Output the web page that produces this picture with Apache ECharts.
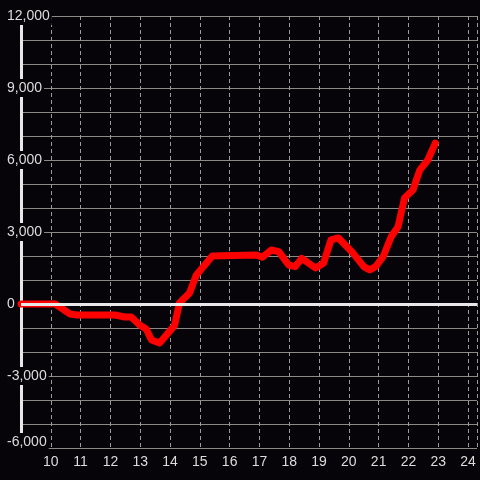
<!DOCTYPE html>
<html>
<head>
<meta charset="utf-8">
<script src="https://cdn.jsdelivr.net/npm/echarts@6/dist/echarts.min.js"></script>
<style>
  html, body { margin: 0; padding: 0; background: #060409; }
  #chart { width: 480px; height: 480px; }
</style>
</head>
<body>
<div id="chart"></div>
<script>
  // time of day (hours) and value
  var hours = [9, 10.15, 10.65, 10.88, 12.15, 12.48, 12.7, 12.98, 13.2, 13.38, 13.65,
    14.15, 14.32, 14.65, 14.88, 15.08, 15.42, 16.9, 17.1, 17.4, 17.65, 17.98, 18.2,
    18.42, 18.88, 19.15, 19.4, 19.65, 20.1, 20.5, 20.7, 20.9, 21.15, 21.42, 21.65,
    21.87, 22.15, 22.38, 22.65, 22.9];
  var values = [0, 0, -420, -460, -460, -540, -540, -875, -1040, -1500, -1625,
    -900, 50, 450, 1200, 1500, 2000, 2040, 1950, 2250, 2180, 1625, 1555,
    1900, 1500, 1700, 2670, 2750, 2180, 1555, 1420, 1555, 1970, 2800, 3220,
    4420, 4750, 5580, 6000, 6700];
  var xTicks = [10, 11, 12, 13, 14, 15, 16, 17, 18, 19, 20, 21, 22, 23, 24];
  var yTicks = [-6000, -3000, 0, 3000, 6000, 9000, 12000];

  var bg = '#060409';
  var textColor = '#dcdcdc';

  var myChart = echarts.init(document.getElementById('chart'));
  var lineData = hours.map(function (h, i) { return [h, values[i]]; });

  var xBase = {
    type: 'value',
    min: 9,
    max: 24.3,
    interval: 1,
    position: 'bottom',
    axisLine: { show: false },
    axisTick: { show: false }
  };

  myChart.setOption({
    backgroundColor: bg,
    animation: false,
    grid: { left: 21, right: 0, top: 16, bottom: 32 },
    xAxis: [
      Object.assign({}, xBase, {
        axisLabel: { show: false },
        splitLine: {
          show: true,
          lineStyle: { color: '#9a9a9a', type: [4, 3], width: 1 }
        }
      }),
      Object.assign({}, xBase, {
        z: 12,
        splitLine: { show: false },
        axisLabel: {
          color: textColor,
          fontSize: 14,
          fontFamily: 'Liberation Sans',
          margin: 7,
          formatter: function (v) {
            return xTicks.indexOf(v) >= 0 ? String(v) : '';
          }
        }
      })
    ],
    yAxis: [
      {
        type: 'value',
        min: -6000,
        max: 12000,
        interval: 1000,
        axisLine: { show: true, onZero: false, lineStyle: { color: '#e8e8e8', width: 3 } },
        axisTick: { show: false },
        axisLabel: { show: false },
        splitLine: { show: true, lineStyle: { color: '#8a8a86', width: 1 } }
      },
      {
        type: 'value',
        position: 'left',
        min: -6000,
        max: 12000,
        interval: 3000,
        z: 10,
        axisLine: { show: false },
        axisTick: { show: false },
        splitLine: { show: false },
        axisLabel: {
          color: textColor,
          fontSize: 14,
          fontFamily: 'Liberation Sans',
          align: 'left',
          margin: 16,
          formatter: function (v) {
            if (yTicks.indexOf(v) < 0) return '';
            var s = v.toLocaleString('en-US');
            return v === yTicks[0] ? '{m|' + s + '}' : '{n|' + s + '}';
          },
          rich: {
            n: { backgroundColor: bg, padding: [2, 2, 2, 2], color: textColor, fontSize: 14, fontFamily: 'Liberation Sans' },
            m: { backgroundColor: bg, padding: [2, 2, 14, 2], color: textColor, fontSize: 14, fontFamily: 'Liberation Sans' }
          }
        }
      }
    ],
    series: [
      {
        type: 'line',
        data: [],
        z: 1,
        silent: true,
        markLine: {
          silent: true,
          symbol: ['none', 'none'],
          label: { show: false },
          lineStyle: { color: '#e8e8e8', width: 3, type: 'solid' },
          data: [{ yAxis: 0 }]
        }
      },
      {
        type: 'line',
        data: lineData,
        z: 3,
        clip: false,
        showSymbol: false,
        symbol: 'none',
        itemStyle: { color: '#ff0000' },
        lineStyle: { color: '#ff0000', width: 7, cap: 'round', join: 'round' }
      }
    ]
  });
  window.onresize = myChart.resize;
</script>
</body>
</html>
